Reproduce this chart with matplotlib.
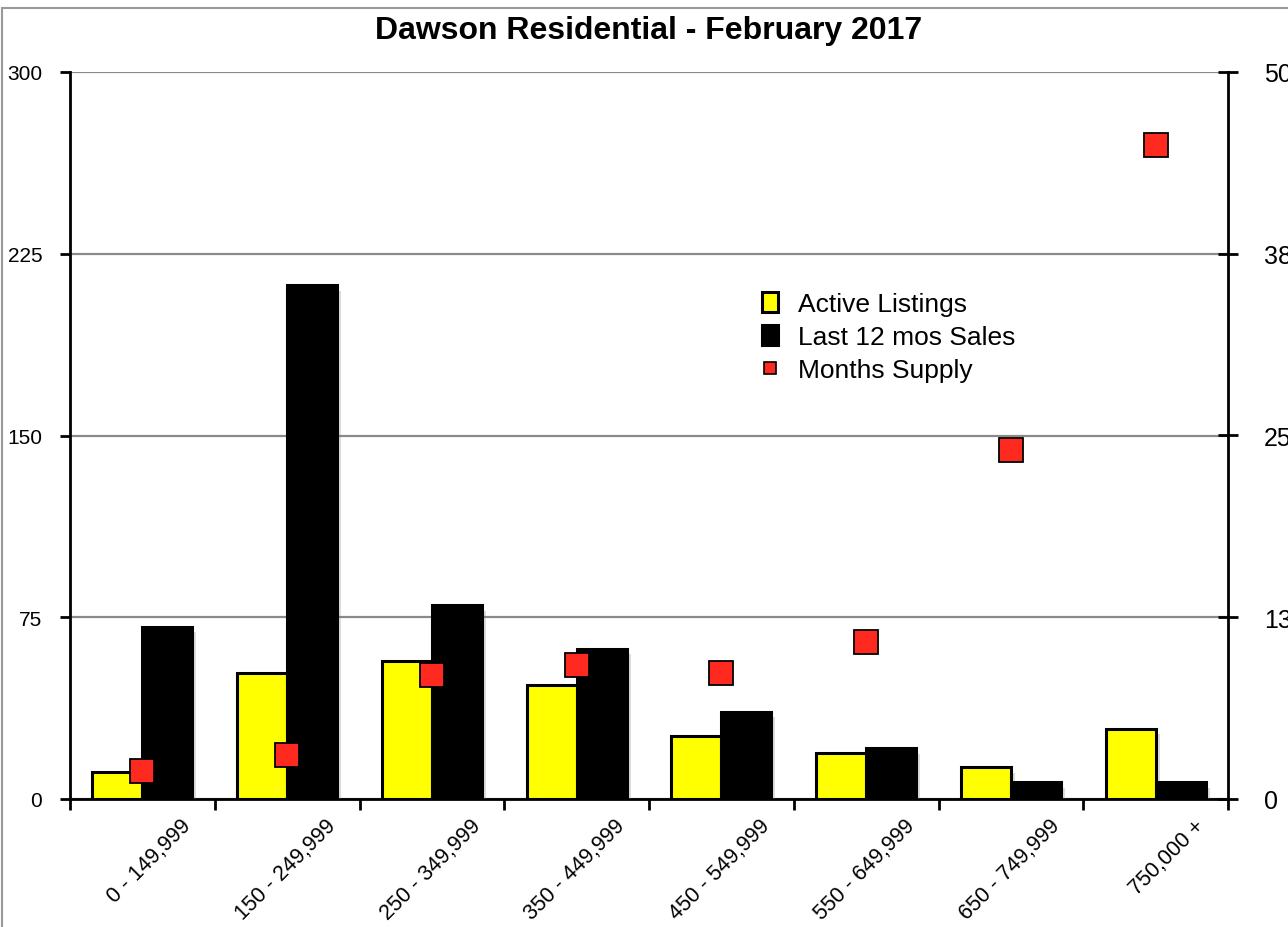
import matplotlib
matplotlib.use("Agg")
import matplotlib.pyplot as plt
import matplotlib.patheffects as pe
from matplotlib.patches import Patch, Rectangle
from matplotlib.lines import Line2D
from matplotlib.transforms import ScaledTranslation
import numpy as np

plt.rcParams['font.family'] = ['Liberation Sans', 'DejaVu Sans']

categories = ["0 - 149,999", "150 - 249,999", "250 - 349,999", "350 - 449,999",
              "450 - 549,999", "550 - 649,999", "650 - 749,999", "750,000 +"]
active_listings = [11, 52, 57, 47, 26, 19, 13, 29]
last12_sales = [71, 212, 80, 62, 36, 21, 7, 7]
months_supply = [1.9, 3.0, 8.5, 9.2, 8.7, 10.8, 24.0, 45.0]

left_ticks = [0, 75, 150, 225, 300]
right_ticks = [0, 12.5, 25, 37.5, 50]
right_labels = ["0", "13", "25", "38", "50"]

W, H = 1288, 928
fig = plt.figure(figsize=(W / 100, H / 100), dpi=100)
ax = fig.add_axes([70 / W, 1 - 800 / H, (1228 - 70) / W, (800 - 73) / H])
ax2 = ax.twinx()

x = np.arange(len(categories))
bw = 0.345
shadow = [pe.SimplePatchShadow(offset=(3, -4), shadow_rgbFace='#777777', alpha=0.25), pe.Normal()]
ax.bar(x - bw / 2, active_listings, width=bw, color='#FFFF00', edgecolor='black',
       linewidth=2.2, zorder=3, path_effects=shadow)
ax.bar(x + bw / 2, last12_sales, width=bw, color='black', edgecolor='black',
       linewidth=2.2, zorder=3, path_effects=shadow)

ax.set_xlim(-0.5, len(categories) - 0.5)
ax.set_ylim(0, 300)
ax.set_yticks(left_ticks)
ax.set_yticklabels([str(t) for t in left_ticks], fontsize=15)
ax.yaxis.grid(True, color='#8a8a8a', linewidth=1.6, zorder=0)
ax.set_axisbelow(True)

ax.set_xticks(x)
ax.set_xticklabels(categories, fontsize=15.5, rotation=45, ha='right', va='top',
                   rotation_mode='anchor')
ax.tick_params(axis='x', which='major', length=0, pad=0)
off = ScaledTranslation(0.38, -0.16, fig.dpi_scale_trans)
for lbl in ax.get_xticklabels():
    lbl.set_transform(lbl.get_transform() + off)
ax.set_xticks(np.arange(len(categories) + 1) - 0.5, minor=True)
ax.tick_params(axis='x', which='minor', length=8, width=2, direction='out', color='black')
ax.tick_params(axis='y', length=7, width=2, direction='out', pad=13)

for s in ['left', 'bottom']:
    ax.spines[s].set_linewidth(2)
    ax.spines[s].set_color('black')
for s in ['top', 'right']:
    ax.spines[s].set_visible(False)

ax2.set_ylim(0, 50)
ax2.set_yticks(right_ticks)
ax2.set_yticklabels(right_labels, fontsize=18)
ax2.tick_params(axis='y', length=14, width=2, direction='inout', pad=19)
ax2.plot(x, months_supply, linestyle='none', marker='s', markersize=17,
         markerfacecolor='#FF2A1F', markeredgecolor='black', markeredgewidth=1.3,
         zorder=5)
ax2.spines['right'].set_linewidth(2)
ax2.spines['right'].set_color('black')
for s in ['top', 'left', 'bottom']:
    ax2.spines[s].set_visible(False)

handles = [
    Patch(facecolor='#FFFF00', edgecolor='black', linewidth=2.2),
    Patch(facecolor='black', edgecolor='black', linewidth=2.2),
    Line2D([], [], linestyle='none', marker='s', markersize=9,
           markerfacecolor='#FF2A1F', markeredgecolor='black', markeredgewidth=1.2),
]
labels = ["Active Listings", "Last 12 mos Sales", "Months Supply"]
leg = ax2.legend(handles, labels, loc='upper left',
                 bbox_to_anchor=(762 / W, 1 - 293 / H), bbox_transform=fig.transFigure,
                 frameon=False, fontsize=19, handlelength=0.6, handleheight=0.8,
                 handletextpad=0.76, labelspacing=0.33, borderpad=0, borderaxespad=0)

fig.text(649 / W, 1 - 31 / H, "Dawson Residential - February 2017", fontsize=23,
         fontweight='bold', ha='center', va='center')

fig.patches.append(Rectangle((2 / W, -0.1), 1.5, 1 - 9 / H + 0.1, transform=fig.transFigure,
                             fill=False, edgecolor='#999999', linewidth=1.5))

fig.savefig("out.png", dpi=100)
